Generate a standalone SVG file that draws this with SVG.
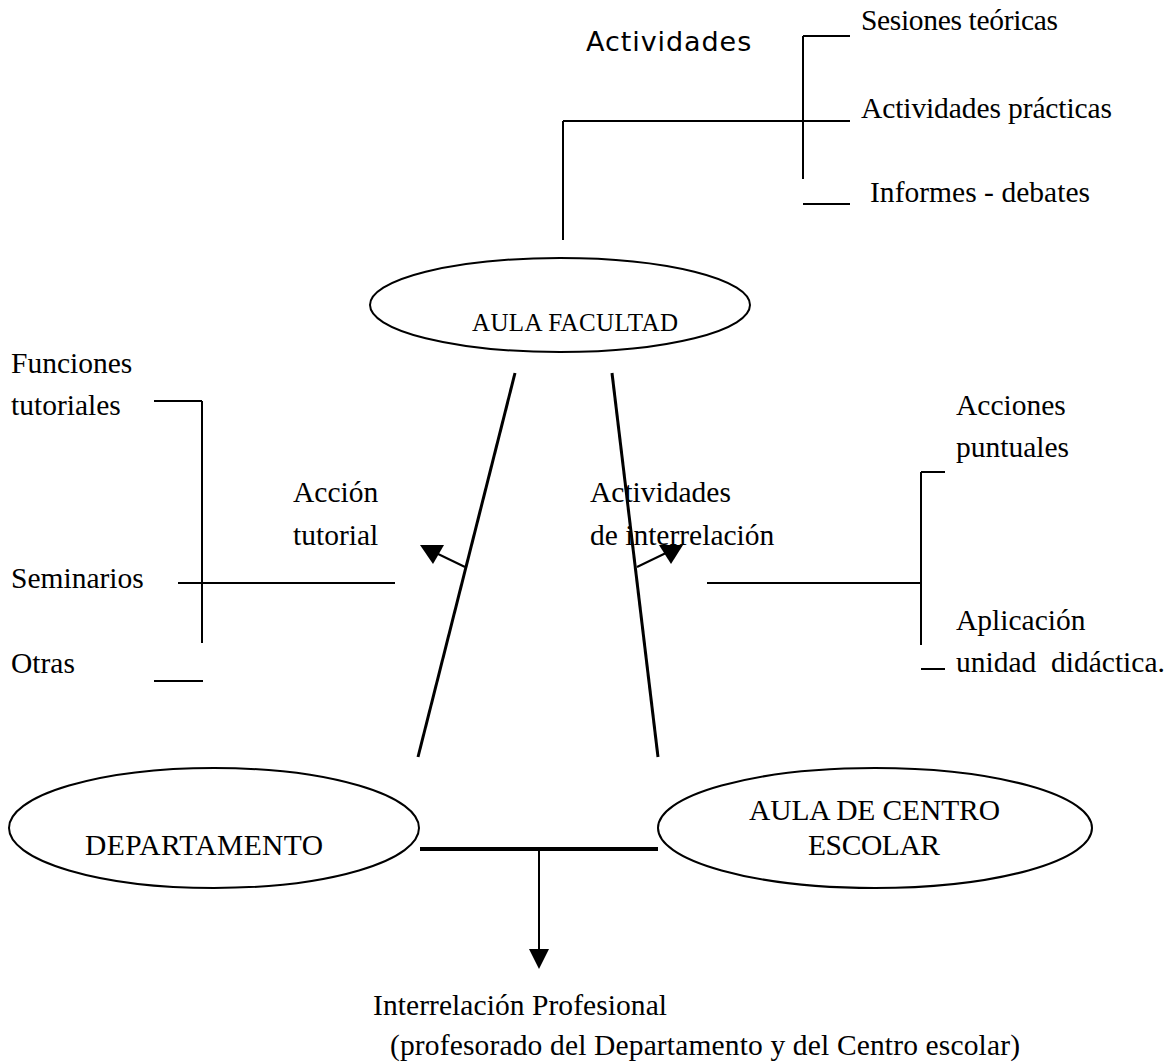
<svg xmlns="http://www.w3.org/2000/svg" width="1175" height="1063" viewBox="0 0 1175 1063">
<defs>
<style>
.t{font-family:"Liberation Serif","Times New Roman",serif;font-size:29.5px;fill:#000}
.ts{font-family:"DejaVu Sans",Verdana,sans-serif;font-size:27px;fill:#000;letter-spacing:0.8px}
.l{stroke:#000;stroke-width:2;fill:none}
.v{stroke:#000;stroke-width:3;fill:none}
.e{stroke:#000;stroke-width:2;fill:#fff}
.ah{fill:#000;stroke:none}
</style>
</defs>
<rect width="1175" height="1063" fill="#fff"/>
<g id="connectors">
<line class="l" x1="563" y1="240" x2="563" y2="121"/>
<line class="l" x1="563" y1="121" x2="850" y2="121"/>
<line class="l" x1="803" y1="36" x2="803" y2="179"/>
<line class="l" x1="803" y1="36" x2="850" y2="36"/>
<line class="l" x1="803" y1="204" x2="850" y2="204"/>
<line class="l" x1="154" y1="401" x2="202" y2="401"/>
<line class="l" x1="202" y1="401" x2="202" y2="643"/>
<line class="l" x1="178" y1="583" x2="395" y2="583"/>
<line class="l" x1="154" y1="681" x2="203" y2="681"/>
<line class="v" x1="515" y1="373" x2="418" y2="757"/>
<line class="v" x1="612" y1="373" x2="658" y2="757"/>
<line class="l" x1="465" y1="567" x2="434" y2="552"/>
<polygon class="ah" points="420,545 444,545 433,564"/>
<line class="l" x1="637" y1="567" x2="668" y2="552"/>
<polygon class="ah" points="659,545 683,545 671,564"/>
<line class="l" x1="707" y1="583" x2="921" y2="583"/>
<line class="l" x1="921" y1="472" x2="921" y2="645"/>
<line class="l" x1="921" y1="472" x2="945" y2="472"/>
<line class="l" x1="921" y1="669" x2="945" y2="669"/>
<line stroke="#000" stroke-width="4" x1="420" y1="849" x2="658" y2="849"/>
<line class="l" x1="539" y1="849" x2="539" y2="950"/>
<polygon class="ah" points="529,949 549,949 539,969"/>
</g>
<g id="n-actividades"><text class="ts" x="586" y="51" textLength="166">Actividades</text></g>
<g id="n-sesiones"><text class="t" x="861" y="30" textLength="197">Sesiones teóricas</text></g>
<g id="n-practicas"><text class="t" x="861" y="118" textLength="251">Actividades prácticas</text></g>
<g id="n-informes"><text class="t" x="870" y="202" textLength="220">Informes - debates</text></g>
<g id="n-aula-facultad">
<ellipse class="e" cx="560" cy="305" rx="190" ry="47"/>
<text x="472" y="331" class="t" style="font-size:25px" textLength="206">AULA FACULTAD</text>
</g>
<g id="n-funciones"><text class="t" x="11" y="373">Funciones</text><text class="t" x="11" y="415">tutoriales</text></g>
<g id="n-seminarios"><text class="t" x="11" y="588">Seminarios</text></g>
<g id="n-otras"><text class="t" x="11" y="673">Otras</text></g>
<g id="n-accion"><text class="t" x="293" y="502">Acción</text><text class="t" x="293" y="545">tutorial</text></g>
<g id="n-interrel"><text class="t" x="590" y="502">Actividades</text><text class="t" x="590" y="545">de interrelación</text></g>
<g id="n-acciones"><text class="t" x="956" y="415">Acciones</text><text class="t" x="956" y="457">puntuales</text></g>
<g id="n-aplicacion"><text class="t" x="956" y="630">Aplicación</text><text class="t" x="956" y="672" xml:space="preserve">unidad  didáctica.</text></g>
<g id="n-departamento">
<ellipse class="e" cx="214" cy="828" rx="205" ry="60"/>
<text class="t" x="85" y="855" textLength="238">DEPARTAMENTO</text>
</g>
<g id="n-aula-centro">
<ellipse class="e" cx="875" cy="828" rx="217" ry="60"/>
<text class="t" x="749" y="820" textLength="251">AULA DE CENTRO</text>
<text class="t" x="808" y="855" textLength="132">ESCOLAR</text>
</g>
<g id="n-interrelacion-prof">
<text class="t" x="373" y="1015" textLength="294">Interrelación Profesional</text>
<text class="t" x="390" y="1055" textLength="630">(profesorado del Departamento y del Centro escolar)</text>
</g>
</svg>
